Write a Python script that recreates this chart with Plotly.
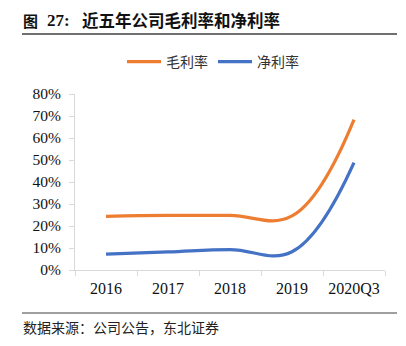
import plotly.graph_objects as go

# Figures reported for the company (fractions of revenue)
periods = ["2016", "2017", "2018", "2019", "2020Q3"]
gross_margin = [0.244, 0.248, 0.248, 0.246, 0.684]
net_margin = [0.072, 0.082, 0.093, 0.083, 0.488]
y_ticks = [0.0, 0.1, 0.2, 0.3, 0.4, 0.5, 0.6, 0.7, 0.8]

W, H = 406, 346
ML, MR, MT, MB = 75, 21, 94, 76
PW, PH = W - ML - MR, H - MT - MB


def px_x(x):
    return (x - ML) / PW


def px_y(y):
    return (H - MB - y) / PH


CJK = "Noto Sans CJK SC"
SERIF = "Liberation Serif"
ORANGE = "#ED7D31"
BLUE = "#4472C4"
AXIS = "#d9d9d9"

fig = go.Figure()
fig.add_trace(go.Scatter(
    x=periods, y=gross_margin, name="毛利率", mode="lines",
    line=dict(color=ORANGE, width=3.2, shape="spline", smoothing=1.15),
))
fig.add_trace(go.Scatter(
    x=periods, y=net_margin, name="净利率", mode="lines",
    line=dict(color=BLUE, width=3.2, shape="spline", smoothing=1.15),
))

fig.update_layout(
    width=W, height=H,
    margin=dict(l=ML, r=MR, t=MT, b=MB),
    paper_bgcolor="white", plot_bgcolor="white",
    showlegend=True,
    legend=dict(
        orientation="h", x=px_x(213), xanchor="center", y=px_y(62), yanchor="middle",
        font=dict(family=CJK, size=14, color="#333333"),
        itemwidth=34, tracegroupgap=0,
    ),
    xaxis=dict(
        type="category", range=[-0.5, 4.5],
        showline=True, linecolor=AXIS, linewidth=1,
        ticks="outside", tickson="boundaries", ticklen=5, tickcolor=AXIS,
        showgrid=False, zeroline=False, ticklabelstandoff=4,
        tickfont=dict(family=SERIF, size=16, color="#111111"),
        fixedrange=True,
    ),
    yaxis=dict(
        range=[0, 0.8], tickvals=y_ticks, tickformat=".0%",
        showline=True, linecolor=AXIS, linewidth=1,
        ticks="outside", ticklen=5, tickcolor=AXIS,
        showgrid=False, zeroline=False, ticklabelstandoff=5,
        tickfont=dict(family=SERIF, size=15.5, color="#111111"),
        fixedrange=True,
    ),
)

# Heading, rule lines and source note
fig.add_annotation(text="<b>图</b>", x=px_x(21), y=px_y(20), xref="paper", yref="paper",
                   xanchor="left", yanchor="middle", showarrow=False,
                   font=dict(family=CJK, size=15, color="#111111"))
fig.add_annotation(text="<b>27:</b>", x=px_x(45), y=px_y(20), xref="paper", yref="paper",
                   xanchor="left", yanchor="middle", showarrow=False,
                   font=dict(family=SERIF, size=17, color="#111111"))
fig.add_annotation(text="<b>近五年公司毛利率和净利率</b>", x=px_x(80), y=px_y(20),
                   xref="paper", yref="paper", xanchor="left", yanchor="middle",
                   showarrow=False, font=dict(family=CJK, size=16.5, color="#111111"))
fig.add_shape(type="line", xref="paper", yref="paper",
              x0=px_x(22), x1=px_x(397), y0=px_y(34), y1=px_y(34),
              line=dict(color="#404040", width=1.3))
fig.add_shape(type="line", xref="paper", yref="paper",
              x0=px_x(22), x1=px_x(397), y0=px_y(313), y1=px_y(313),
              line=dict(color="#7f7f7f", width=1.5))
fig.add_annotation(text="数据来源：公司公告，东北证券", x=px_x(21), y=px_y(327),
                   xref="paper", yref="paper", xanchor="left", yanchor="middle",
                   showarrow=False, font=dict(family=CJK, size=14, color="#222222"))

fig.write_html("out.html")
